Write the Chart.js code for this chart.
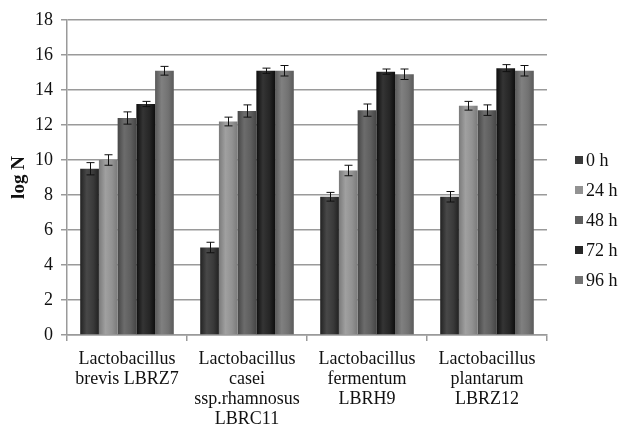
<!DOCTYPE html>
<html>
<head>
<meta charset="utf-8">
<script src="https://cdn.jsdelivr.net/npm/chart.js@4"></script>
<style>
html,body{margin:0;padding:0;background:#fff;}
#wrap{width:620px;height:429px;}
</style>
</head>
<body>
<div id="wrap"><canvas id="c" width="620" height="429"></canvas></div>
<script>
const categories = [
  ["Lactobacillus","brevis LBRZ7"],
  ["Lactobacillus","casei","ssp.rhamnosus","LBRC11"],
  ["Lactobacillus","fermentum","LBRH9"],
  ["Lactobacillus","plantarum","LBRZ12"]
];
const seriesNames = ["0 h","24 h","48 h","72 h","96 h"];
const v0h  = [9.5, 5.0, 7.9, 7.9];
const v24h = [10.0, 12.2, 9.4, 13.1];
const v48h = [12.4, 12.8, 12.85, 12.85];
const v72h = [13.2, 15.1, 15.05, 15.25];
const v96h = [15.1, 15.1, 14.9, 15.1];
const e0h  = [0.35, 0.3, 0.25, 0.3];
const e24h = [0.3, 0.25, 0.3, 0.25];
const e48h = [0.35, 0.35, 0.35, 0.3];
const e72h = [0.15, 0.15, 0.15, 0.2];
const e96h = [0.25, 0.3, 0.3, 0.3];
const yTicks = [0,2,4,6,8,10,12,14,16,18];

const values = [v0h, v24h, v48h, v72h, v96h];
const errors = [e0h, e24h, e48h, e72h, e96h];
const colors = ["#3a3a3a","#929292","#5e5e5e","#262626","#727272"];
const FONT = '"Liberation Serif", "Times New Roman", serif';

function shade(hex, amt){
  const n = parseInt(hex.slice(1),16);
  let r=(n>>16)&255,g=(n>>8)&255,b=n&255;
  r=Math.max(0,Math.min(255,r+amt));g=Math.max(0,Math.min(255,g+amt));b=Math.max(0,Math.min(255,b+amt));
  return "rgb("+r+","+g+","+b+")";
}

const gradientPlugin = {
  id:'cyl',
  beforeDatasetsDraw(chart){
    const ctx = chart.ctx;
    chart.data.datasets.forEach((ds,di)=>{
      const meta = chart.getDatasetMeta(di);
      meta.data.forEach(el=>{
        const w = el.width, x0 = el.x - w/2;
        const g = ctx.createLinearGradient(x0,0,x0+w,0);
        const base = colors[di];
        g.addColorStop(0, shade(base,-24));
        g.addColorStop(0.35, shade(base,14));
        g.addColorStop(0.7, base);
        g.addColorStop(1, shade(base,-24));
        el.options = Object.assign({}, el.options, {backgroundColor:g});
      });
    });
  }
};

const errorPlugin = {
  id:'errbars',
  afterDatasetsDraw(chart){
    const ctx = chart.ctx, ys = chart.scales.y;
    ctx.save();
    ctx.strokeStyle = '#111';
    ctx.lineWidth = 1;
    chart.data.datasets.forEach((ds,di)=>{
      const meta = chart.getDatasetMeta(di);
      meta.data.forEach((el,i)=>{
        const v = values[di][i], e = errors[di][i];
        const yt = ys.getPixelForValue(v+e), yb = ys.getPixelForValue(v-e);
        const x = Math.round(el.x)+0.5;
        ctx.beginPath();
        ctx.moveTo(x,yt);ctx.lineTo(x,yb);
        ctx.moveTo(x-4,yt);ctx.lineTo(x+4,yt);
        ctx.moveTo(x-4,yb);ctx.lineTo(x+4,yb);
        ctx.stroke();
      });
    });
    ctx.restore();
  }
};

const legendPlugin = {
  id:'sideLegend',
  afterDraw(chart){
    const ctx = chart.ctx;
    ctx.save();
    ctx.font = '18px ' + FONT;
    ctx.textBaseline = 'middle';
    ctx.textAlign = 'left';
    seriesNames.forEach((n,i)=>{
      const y = 160 + i*30;
      ctx.fillStyle = colors[i];
      ctx.fillRect(575, y-4, 8, 8);
      ctx.fillStyle = '#111';
      ctx.fillText(n, 586, y+1);
    });
    ctx.restore();
  }
};

function build(){
  new Chart(document.getElementById('c'), {
    type:'bar',
    data:{
      labels: categories,
      datasets: seriesNames.map((n,i)=>({
        label:n,
        data:values[i],
        backgroundColor:colors[i],
        borderWidth:0,
        barPercentage:1.0,
        categoryPercentage:0.78
      }))
    },
    options:{
      responsive:false,
      animation:false,
      devicePixelRatio:1,
      layout:{padding:{top:20,right:73,left:0,bottom:0}},
      plugins:{legend:{display:false},tooltip:{enabled:false}},
      scales:{
        x:{
          offset:true,
          grid:{offset:true,drawOnChartArea:false,drawTicks:true,tickLength:6,color:'#9a9a9a',lineWidth:1.5},
          border:{color:'#9a9a9a',width:1.5},
          ticks:{color:'#111',font:{family:FONT,size:18,lineHeight:1.12},padding:8,maxRotation:0,autoSkip:false},
          afterFit(s){ s.height = 94; }
        },
        y:{
          min:0,max:18,
          afterBuildTicks(s){ s.ticks = yTicks.map(v=>({value:v})); },
          grid:{color:'#9a9a9a',lineWidth:1.5,tickLength:6},
          border:{color:'#9a9a9a',width:1.5},
          ticks:{color:'#111',font:{family:FONT,size:18},padding:8},
          title:{display:true,text:'log N',color:'#111',font:{family:FONT,size:19,weight:'bold'},padding:{top:8,bottom:0}},
          afterFit(s){ s.width = 67; }
        }
      }
    },
    plugins:[gradientPlugin, errorPlugin, legendPlugin]
  });
}
Promise.all([
  document.fonts.load('18px "Liberation Serif"'),
  document.fonts.load('bold 19px "Liberation Serif"')
]).then(build, build);
</script>
</body>
</html>
